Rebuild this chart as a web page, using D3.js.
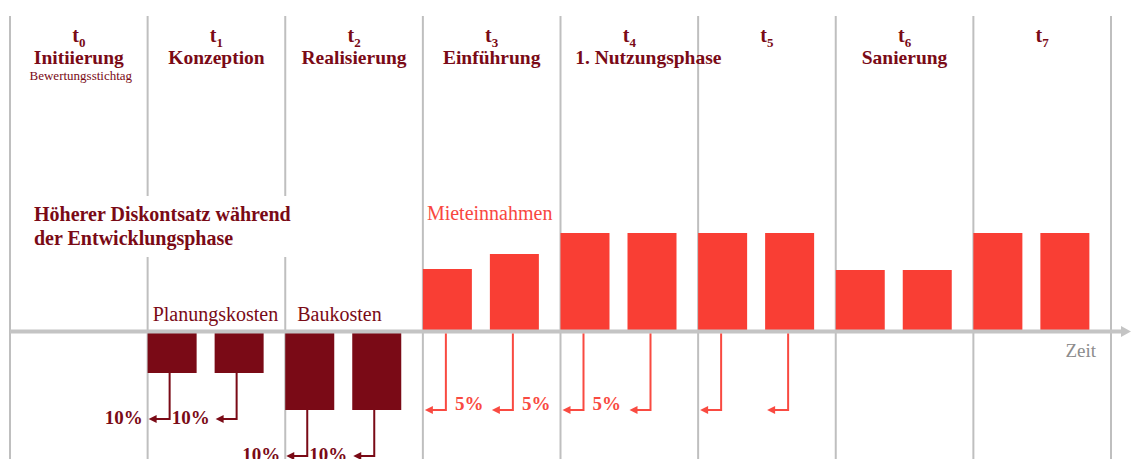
<!DOCTYPE html>
<html><head><meta charset="utf-8">
<script src="https://cdn.jsdelivr.net/npm/d3@7"></script>
<style>body{margin:0;background:#fff}svg{display:block}</style>
</head><body>
<svg id="c" width="1131" height="459"></svg>
<script>
// ---- data ----
const periodSubs = ["0","1","2","3","4","5","6","7"];
const phaseNames = ["Initiierung","Konzeption","Realisierung","Einführung","1. Nutzungsphase","","Sanierung",""];
const phaseNotes = ["Bewertungsstichtag","","","","","","",""];
const costPeriods = [1,1,2,2];
const costSlots   = [0,1,0,1];
const costValues  = [-41.5,-41.5,-78.5,-78.5];
const costRates   = ["10%","10%","10%","10%"];
const incomePeriods = [3,3,4,4,5,5,6,6,7,7];
const incomeSlots   = [0,1,0,1,0,1,0,1,0,1];
const incomeValues  = [62.5,77.5,98.5,98.5,98.5,98.5,61.5,61.5,98.5,98.5];
const incomeRates   = ["5%","5%","5%","","","",null,null,null,null];
const noteLines = ["Höherer Diskontsatz während","der Entwicklungsphase"];
const costLabels = ["Planungskosten","Baukosten"];
const incomeLabel = "Mieteinnahmen";
const axisLabel = "Zeit";

// ---- styles ----
const DARK = "#7a0a16", RED = "#f93e34", GRID = "#bfbfbf";
const FONT = "'Liberation Serif','Times New Roman',serif";

const svg = d3.select("#c");
const x = d3.scaleBand().domain(d3.range(periodSubs.length)).range([10, 1111]).paddingInner(0).paddingOuter(0);
const slot = d3.scaleBand().domain([0,1]).range([0, 116]).paddingInner(0.2687).paddingOuter(0);
const y = d3.scaleLinear().domain([0, 100]).range([331.5, 231.5]);
const bx = (p, s) => x(p) + slot(s);

// vertical period lines
const bounds = d3.range(periodSubs.length).map(i => x(i)).concat([x(periodSubs.length-1) + x.bandwidth()]);
svg.append("g").selectAll("line").data(bounds).join("line")
  .attr("x1", d => d).attr("x2", d => d).attr("y1", 16).attr("y2", 459)
  .attr("stroke", GRID).attr("stroke-width", 2);

// mask behind note text
svg.append("rect").attr("x", 30).attr("y", 196).attr("width", 270).attr("height", 61).attr("fill", "#fff");

// headers
const hdr = svg.append("g").attr("font-family", FONT).attr("fill", DARK).attr("font-weight", "bold").attr("text-anchor", "middle");
periodSubs.forEach((s, i) => {
  const cx = x(i) + x.bandwidth()/2;
  const t = hdr.append("text").attr("x", cx).attr("y", 42);
  t.append("tspan").attr("font-size", 20).text("t");
  t.append("tspan").attr("font-size", 13).attr("dy", 4.5).text(s);
  if (phaseNames[i]) {
    const dx = phaseNames[i].length > 12 ? 19 : 0;
    hdr.append("text").attr("x", cx + dx).attr("y", 64).attr("font-size", 19.5).text(phaseNames[i]);
  }
  if (phaseNotes[i]) {
    hdr.append("text").attr("x", cx + 2).attr("y", 80).attr("font-size", 13).attr("font-weight", "normal").text(phaseNotes[i]);
  }
});

// note
svg.append("g").attr("font-family", FONT).attr("fill", DARK).attr("font-weight", "bold").attr("font-size", 20)
  .selectAll("text").data(noteLines).join("text")
  .attr("x", 34).attr("y", (d, i) => 221 + i*24).text(d => d);

// bars
const costs = costValues.map((v, i) => ({v, p: costPeriods[i], s: costSlots[i], r: costRates[i]}));
const incomes = incomeValues.map((v, i) => ({v, p: incomePeriods[i], s: incomeSlots[i], r: incomeRates[i]}));

svg.append("g").selectAll("rect").data(costs).join("rect")
  .attr("x", d => bx(d.p, d.s)).attr("width", slot.bandwidth())
  .attr("y", y(0)).attr("height", d => y(d.v) - y(0)).attr("fill", DARK);
svg.append("g").selectAll("rect").data(incomes).join("rect")
  .attr("x", d => bx(d.p, d.s)).attr("width", slot.bandwidth())
  .attr("y", d => y(d.v)).attr("height", d => y(0) - y(d.v)).attr("fill", RED);

// category labels
const lab = svg.append("g").attr("font-family", FONT).attr("font-size", 20);
lab.append("text").attr("x", x(1) + 5).attr("y", 321).attr("fill", DARK).text(costLabels[0]);
lab.append("text").attr("x", x(2) + 12).attr("y", 321).attr("fill", DARK).text(costLabels[1]);
lab.append("text").attr("x", x(3) + 4).attr("y", 220).attr("fill", "#f8473f").text(incomeLabel);

// axis
svg.append("line").attr("x1", 10).attr("x2", 1123).attr("y1", y(0)).attr("y2", y(0))
  .attr("stroke", "#c4c4c4").attr("stroke-width", 4);
svg.append("path").attr("d", `M1121,${y(0)-5.5}L1131,${y(0)}L1121,${y(0)+5.5}Z`).attr("fill", "#c4c4c4");
svg.append("text").attr("x", 1096).attr("y", 357).attr("text-anchor", "end")
  .attr("font-family", FONT).attr("font-size", 19).attr("fill", "#8c8c8c").text(axisLabel);

// discount arrows
function arrow(g, x0, yTop, yBot, tip, col) {
  g.append("path").attr("d", `M${x0},${yTop}V${yBot}H${tip + 6}`)
    .attr("fill", "none").attr("stroke", col).attr("stroke-width", 2);
  g.append("path").attr("d", `M${tip},${yBot}L${tip + 8},${yBot - 4}L${tip + 8},${yBot + 4}Z`).attr("fill", col);
}
const ag = svg.append("g");
costs.forEach(d => {
  const x0 = bx(d.p, d.s);
  const yb = y(d.v) + 46;
  arrow(ag, x0 + 22, y(d.v), yb, x0 + 1, DARK);
  ag.append("text").attr("x", x0 - 5).attr("y", yb + 4.5).attr("text-anchor", "end")
    .attr("font-family", FONT).attr("font-weight", "bold").attr("font-size", 19).attr("fill", DARK).text(d.r);
});
incomes.filter(d => d.r !== null).forEach(d => {
  const x0 = bx(d.p, d.s);
  const yb = y(-78.5);
  arrow(ag, x0 + 23, y(0) + 2, yb, x0 + 2, "#f94a41");
  if (d.r) ag.append("text").attr("x", x0 + 32).attr("y", yb).attr("font-family", FONT)
    .attr("font-weight", "bold").attr("font-size", 19).attr("fill", "#f94a41").text(d.r);
});
</script>
</body></html>
